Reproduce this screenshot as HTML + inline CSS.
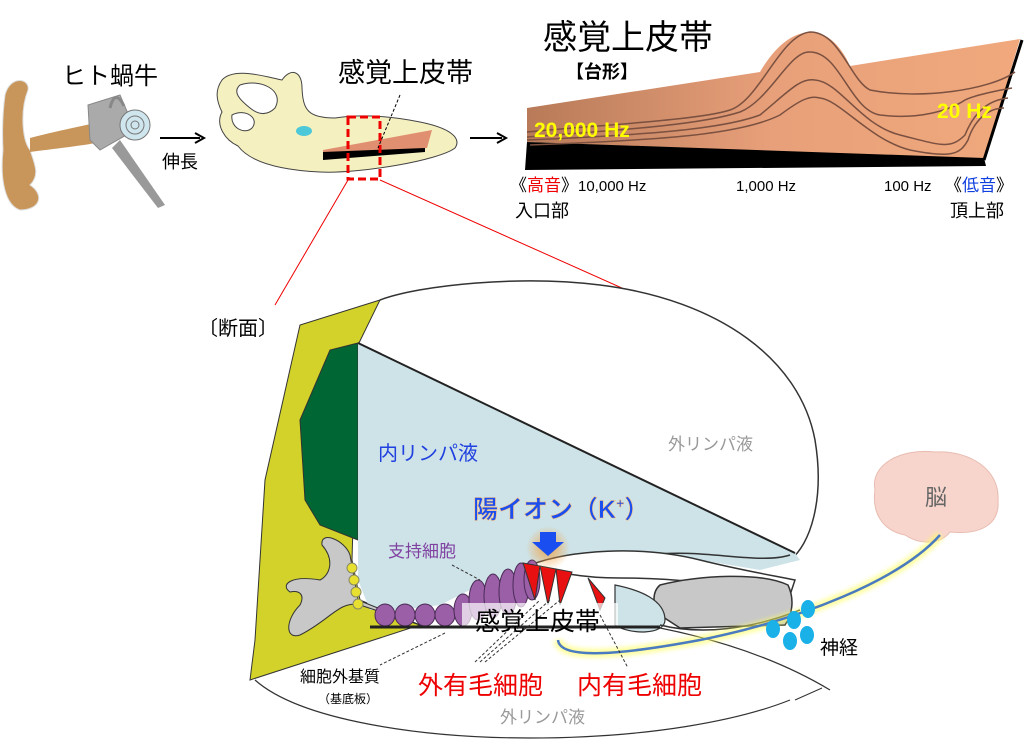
<!DOCTYPE html>
<html><head><meta charset="utf-8"><style>
html,body{margin:0;padding:0;background:#fff;width:1024px;height:740px;overflow:hidden}
svg{display:block}
text{font-family:"Liberation Sans","Noto Sans CJK JP",sans-serif}
</style></head><body>
<svg width="1024" height="740" viewBox="0 0 1024 740" xmlns="http://www.w3.org/2000/svg">
<defs>
<linearGradient id="og" x1="0" x2="1" y1="0" y2="0"><stop offset="0" stop-color="#b87a58"/><stop offset="0.5" stop-color="#e8a07a"/><stop offset="1" stop-color="#f0a87c"/></linearGradient>
<radialGradient id="glow"><stop offset="0" stop-color="#f0a040" stop-opacity="0.9"/><stop offset="1" stop-color="#f0a040" stop-opacity="0"/></radialGradient>
<filter id="tg"><feGaussianBlur stdDeviation="2"/></filter>
</defs>

<!-- ear -->
<path d="M5,95 C10,75 30,78 28,90 C20,110 22,140 30,150 C35,165 40,175 30,185 C45,195 40,210 20,210 C5,205 0,180 3,150 C2,130 3,110 5,95Z" fill="#c8965a" stroke="#ddd"/>
<path d="M30,138 C60,130 90,125 105,120 L110,140 C90,145 60,148 30,152Z" fill="#c8965a"/>
<path d="M88,105 L120,95 L135,130 L100,150 L90,140Z" fill="#aaa" stroke="#888"/>
<path d="M120,140 L165,205 L158,208 L112,148Z" fill="#999"/>
<circle cx="135" cy="125" r="15" fill="#cfe6ee" stroke="#777"/>
<circle cx="135" cy="125" r="9" fill="none" stroke="#777"/>
<circle cx="135" cy="125" r="4" fill="none" stroke="#777"/>
<path d="M110,108 q5,-20 14,-2" fill="none" stroke="#888" stroke-width="3"/>
<text x="62" y="84" font-size="24">ヒト蝸牛</text>
<path d="M160,138 H200" stroke="#000" stroke-width="2"/><path d="M195,133 L204,138 L195,143" fill="none" stroke="#000" stroke-width="2"/>
<text x="162" y="168" font-size="18">伸長</text>

<!-- stretched cochlea -->
<path d="M222,80 C235,66 270,78 282,80 C290,68 302,70 302,88 C303,110 308,118 335,118 C360,114 390,116 420,122 C450,128 462,138 455,148 C440,160 360,174 320,172 C280,170 250,162 238,146 C225,140 215,125 222,112 C216,100 215,90 222,80Z" fill="#f5f0c0" stroke="#444" stroke-width="1"/>
<path d="M240,85 C260,78 285,90 275,108 C265,118 255,112 250,108 C240,100 232,92 240,85Z" fill="#fff" stroke="#444"/>
<path d="M232,115 C245,108 260,118 252,128 C245,135 230,128 232,115Z" fill="#fff" stroke="#444"/>
<ellipse cx="304" cy="131" rx="8" ry="5" fill="#4cc8d8"/>
<path d="M323,150 L432,130 L427,148 L323,156Z" fill="#e09070"/>
<path d="M323,152 L425,148 L425,152 L323,160Z" fill="#000"/>
<rect x="348" y="117" width="32" height="62" fill="none" stroke="#e00" stroke-width="3" stroke-dasharray="8,4"/>
<path d="M400,95 L378,148" stroke="#000" stroke-dasharray="3,2"/>
<text x="338" y="82" font-size="27">感覚上皮帯</text>
<path d="M470,138 H502" stroke="#000" stroke-width="2"/><path d="M497,133 L506,138 L497,143" fill="none" stroke="#000" stroke-width="2"/>
<path d="M348,180 L275,305 M380,180 L660,305" stroke="#e00" stroke-width="1"/>

<!-- trapezoid -->
<path d="M527,142 L527,108 L760,72 C790,20 830,20 850,66 L1020,39 L984,160 Z" fill="url(#og)"/>
<path d="M527,142 L984,158 L986,166 L525,170Z" fill="#000"/>
<path d="M984,160 L1022,40" stroke="#000" stroke-width="3"/>
<g fill="none" stroke="#7a5040" stroke-width="1.5">
<path d="M527,132 C600,125 700,120 730,110 C760,100 780,35 810,32 C840,32 850,80 870,90 C920,100 990,90 1015,72"/>
<path d="M527,137 C620,130 700,125 740,112 C770,100 790,50 810,52 C840,52 850,110 880,115 C920,120 950,110 965,100 C975,95 1000,90 1012,88"/>
<path d="M527,140 C640,135 720,130 760,115 C790,90 800,78 815,80 C840,82 860,125 900,135 C940,145 950,150 965,135 C975,110 990,100 1008,98"/>
<path d="M530,145 C660,140 740,135 780,115 C800,100 810,95 820,98 C840,100 870,140 910,150 C950,158 960,155 968,140 C975,118 990,108 1004,108"/>
</g>
<text x="543" y="49" font-size="34">感覚上皮帯</text>
<text x="566" y="78" font-size="18" font-weight="bold">【台形】</text>
<text x="534" y="137" font-size="21" font-weight="bold" fill="#ffff00">20,000 Hz</text>
<text x="937" y="118" font-size="21" font-weight="bold" fill="#ffff00">20 Hz</text>
<text x="510" y="191" font-size="17">《<tspan fill="#e00">高音</tspan>》<tspan font-size="15">10,000 Hz</tspan></text>
<text x="736" y="191" font-size="15">1,000 Hz</text>
<text x="884" y="191" font-size="15">100 Hz</text>
<text x="945" y="191" font-size="17">《<tspan fill="#1040e0">低音</tspan>》</text>
<text x="515" y="217" font-size="18">入口部</text>
<text x="950" y="217" font-size="18">頂上部</text>

<!-- cross section -->
<text x="198" y="335" font-size="20">〔断面〕</text>
<path d="M255,680 C300,720 420,738 530,738 C650,738 740,720 790,700" fill="none" stroke="#333" stroke-width="1.2"/>
<path d="M380,300 C420,285 520,275 600,285 C720,300 800,360 815,440 C825,500 810,545 790,560" fill="#fff" stroke="#333" stroke-width="1.5"/>
<path d="M380,300 L300,325 L265,480 L255,640 L250,680 L420,625 L360,600 L352,560 L358,345 Z" fill="#d2d22a" stroke="#333"/>
<path d="M358,343 L330,350 L300,420 L305,500 L320,525 L358,540Z" fill="#006633" stroke="#333"/>
<path d="M358,343 L795,553 L800,560 L760,570 L700,560 L660,565 L620,560 L600,555 L560,556 L540,565 L520,570 L500,580 L470,590 L440,605 L400,610 L370,610 L358,580 Z" fill="#cde3e8"/>
<path d="M358,343 L795,553" stroke="#222" stroke-width="2"/>
<path d="M790,555 C760,565 700,548 650,555" fill="none" stroke="#333" stroke-width="1.5"/>
<!-- tectorial -->
<path d="M530,565 C570,550 640,545 700,560 C740,570 770,575 795,580 L790,595 C740,588 690,578 620,578 C580,578 555,572 530,565Z" fill="#fff" stroke="#333" stroke-width="1.5"/>
<path d="M660,585 C700,575 760,572 788,585 C795,600 792,615 785,625 L680,628 L660,615 C652,605 652,592 660,585Z" fill="#c8c8c8" stroke="#333" stroke-width="1.5"/>
<path d="M615,585 C640,590 665,600 665,620 C665,635 630,635 615,625Z" fill="#cde3e8" stroke="#333" stroke-width="1.2"/>
<path d="M660,625 C700,635 750,630 800,610" fill="none" stroke="#333" stroke-width="1.5"/>
<path d="M660,628 C720,640 780,660 830,690" fill="none" stroke="#333" stroke-width="1.2"/>
<path d="M795,700 L822,688" stroke="#333"/>
<!-- gray pillar -->
<path d="M420,625 L360,605 C340,600 330,620 300,635 C285,640 285,620 300,605 C305,595 300,590 290,592 C280,585 290,575 320,580 C330,575 335,560 322,545 C320,530 345,540 350,555 L358,600 Z" fill="#c8c8c8" stroke="#333"/>
<g fill="#e8e030" stroke="#886"><circle cx="352" cy="568" r="5"/><circle cx="354" cy="580" r="5"/><circle cx="356" cy="592" r="5"/><circle cx="358" cy="604" r="5"/></g>
<!-- purple cells -->
<g fill="#9b5fa8" stroke="#4a2a55">
<ellipse cx="385" cy="615" rx="10" ry="11"/><ellipse cx="405" cy="615" rx="10" ry="11"/><ellipse cx="425" cy="615" rx="10" ry="11"/><ellipse cx="445" cy="615" rx="10" ry="11"/>
<ellipse cx="463" cy="610" rx="9" ry="16"/><ellipse cx="478" cy="600" rx="9" ry="20"/><ellipse cx="493" cy="596" rx="9" ry="22"/><ellipse cx="508" cy="592" rx="9" ry="23"/><ellipse cx="521" cy="585" rx="8" ry="22"/><ellipse cx="532" cy="580" rx="8" ry="20"/>
</g>
<!-- hair cells -->
<g fill="#e81010" stroke="#333">
<path d="M523,563 L540,566 L535,600 Z"/><path d="M540,566 L556,569 L548,605Z"/><path d="M556,569 L572,572 L560,605Z"/>
<path d="M588,578 L605,598 L600,610 Z"/>
</g>
<rect x="462" y="603" width="156" height="31" fill="#fff" fill-opacity="0.7"/>
<path d="M370,627 L660,627" stroke="#222" stroke-width="3"/>
<!-- glow & arrow -->
<circle cx="548" cy="548" r="22" fill="url(#glow)"/>
<path d="M540,532 H556 V542 H564 L548,556 L532,542 H540Z" fill="#1a4ef0"/>
<!-- brain & nerve -->
<path d="M875,490 C870,465 900,448 935,452 C970,450 1000,470 998,500 C1000,525 980,535 950,532 C940,545 920,545 905,535 C880,530 872,510 875,490Z" fill="#f7d5cc" stroke="#e8bcb0"/>
<text x="925" y="505" font-size="22" fill="#666">脳</text>
<path d="M940,535 C900,580 800,620 700,640 C620,655 560,660 558,640" fill="none" stroke="#ffff60" stroke-width="9" opacity="0.6" filter="url(#tg)"/>
<path d="M940,535 C900,580 800,620 700,640 C620,655 560,660 558,640" fill="none" stroke="#4a7ac0" stroke-width="2.5"/>
<g fill="#1ab0e8"><ellipse cx="773" cy="629" rx="7" ry="9"/><ellipse cx="794" cy="620" rx="7" ry="9"/><ellipse cx="808" cy="609" rx="7" ry="9"/><ellipse cx="790" cy="641" rx="7" ry="9"/><ellipse cx="807" cy="635" rx="7" ry="9"/></g>
<text x="820" y="654" font-size="19">神経</text>
<!-- dashed leaders -->
<g stroke="#333" stroke-dasharray="3,2" fill="none">
<path d="M452,565 L480,580"/><path d="M445,633 L380,665"/><path d="M475,662 L540,600 M480,662 L550,600 M485,662 L560,600"/><path d="M600,615 L628,668"/>
</g>
<!-- labels -->
<text x="378" y="460" font-size="20" fill="#2040e0">内リンパ液</text>
<text x="668" y="450" font-size="17" fill="#999">外リンパ液</text>
<text x="473" y="518" font-size="25" font-weight="bold" fill="#1a4ef0" stroke="#f8c080" stroke-width="0.6">陽イオン（K<tspan font-size="14" dy="-10">+</tspan><tspan dy="10">）</tspan></text>
<text x="388" y="557" font-size="17" fill="#8040a0">支持細胞</text>
<text x="475" y="630" font-size="25">感覚上皮帯</text>
<text x="300" y="682" font-size="16">細胞外基質</text>
<text x="318" y="703" font-size="12">（基底板）</text>
<text x="418" y="694" font-size="25" fill="#e00">外有毛細胞</text>
<text x="577" y="694" font-size="25" fill="#e00">内有毛細胞</text>
<text x="500" y="723" font-size="17" fill="#999">外リンパ液</text>
</svg>
</body></html>
